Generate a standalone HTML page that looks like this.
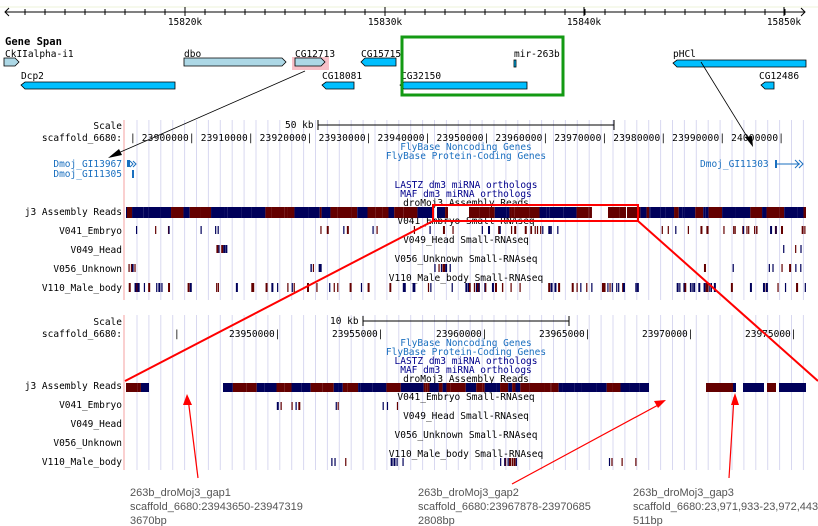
<!DOCTYPE html>
<html><head><meta charset="utf-8"><style>
html,body{margin:0;padding:0;background:#fff;width:818px;height:526px;overflow:hidden}
svg{display:block}
.m{font-family:"DejaVu Sans Mono","Liberation Mono",monospace;font-size:9.5px}
.g{font-family:"Liberation Sans",sans-serif;font-size:11px;fill:#555}
</style></head><body>
<svg id="s" width="818" height="526" xmlns="http://www.w3.org/2000/svg">
<line x1="0" y1="7" x2="818" y2="7" stroke="#eef3d8" stroke-width="1"/>
<g id="topr"></g>
<text x="5" y="45" font-family="DejaVu Sans Mono,Liberation Mono,monospace" font-size="10.5" font-weight="bold">Gene Span</text>
<g class="m">
<text x="5" y="57">CkIIalpha-i1</text>
<text x="184" y="57">dbo</text>
<text x="295" y="57">CG12713</text>
<text x="361" y="57">CG15715</text>
<text x="514" y="57">mir-263b</text>
<text x="673" y="57">pHCl</text>
<text x="21" y="79">Dcp2</text>
<text x="322" y="79">CG18081</text>
<text x="401" y="79">CG32150</text>
<text x="759" y="79">CG12486</text>
</g>
<rect x="292" y="57" width="37" height="13" fill="#f7c0c8"/>
<g stroke="#000" stroke-width="0.8">
<polygon points="4,58 15,58 19,62 15,66 4,66" fill="#add8e6"/>
<polygon points="184,58 282,58 286,62 282,66 184,66" fill="#add8e6"/>
<polygon points="295,58 321,58 325,62 321,66 295,66" fill="#add8e6"/>
<polygon points="365,58 396,58 396,66 365,66 361,62" fill="#00bfff"/>
<rect x="514" y="60" width="2" height="7" fill="#00bfff"/>
<polygon points="677,60 806,60 806,67 677,67 673,63" fill="#00bfff"/>
<polygon points="25,82 175,82 175,89 25,89 21,85" fill="#00bfff"/>
<polygon points="326,82 354,82 354,89 326,89 322,85" fill="#00bfff"/>
<polygon points="404,82 527,82 527,89 404,89 400,85" fill="#00bfff"/>
<polygon points="765,82 774,82 774,89 765,89 761,85" fill="#00bfff"/>
</g>
<rect x="402" y="37" width="161" height="58" fill="none" stroke="#139a13" stroke-width="3"/>
<g id="grid"></g>
<line x1="124" y1="120" x2="124" y2="300" stroke="#f4a0a0"/>
<line x1="124" y1="315" x2="124" y2="470" stroke="#f4a0a0"/>
<g class="m" text-anchor="end">
<text x="122" y="129">Scale</text><text x="122" y="141">scaffold_6680:</text>
<text x="122" y="167" fill="#1a6fbf">Dmoj_GI13967</text>
<text x="122" y="177" fill="#1a6fbf">Dmoj_GI11305</text>
<text x="122" y="215">j3 Assembly Reads</text>
<text x="122" y="234">V041_Embryo</text><text x="122" y="253">V049_Head</text>
<text x="122" y="272">V056_Unknown</text><text x="122" y="291">V110_Male_body</text>
<text x="122" y="325">Scale</text><text x="122" y="337">scaffold_6680:</text>
<text x="122" y="389">j3 Assembly Reads</text>
<text x="122" y="408">V041_Embryo</text><text x="122" y="427">V049_Head</text>
<text x="122" y="446">V056_Unknown</text><text x="122" y="465">V110_Male_body</text>
</g>
<g class="m">
<text x="285" y="128">50 kb</text>
<text x="130" y="141" textLength="654" lengthAdjust="spacing">| 23900000| 23910000| 23920000| 23930000| 23940000| 23950000| 23960000| 23970000| 23980000| 23990000| 24000000|</text>
<g text-anchor="middle" fill="#1a6fbf"><text x="466" y="150">FlyBase Noncoding Genes</text><text x="466" y="159">FlyBase Protein-Coding Genes</text></g>
<text x="700" y="167" fill="#1a6fbf">Dmoj_GI11303</text>
<g text-anchor="middle"><text x="466" y="188" fill="#00008b">LASTZ dm3 miRNA orthologs</text><text x="466" y="197" fill="#00008b">MAF dm3 miRNA orthologs</text><text x="466" y="206">droMoj3 Assembly Reads</text>
<text x="466" y="224">V041_Embryo Small-RNAseq</text><text x="466" y="243">V049_Head Small-RNAseq</text><text x="466" y="262">V056_Unknown Small-RNAseq</text><text x="466" y="281">V110_Male_body Small-RNAseq</text></g>
<text x="330" y="324">10 kb</text>
<text x="229" y="337">23950000|</text><text x="332" y="337">23955000|</text><text x="436" y="337">23960000|</text><text x="539" y="337">23965000|</text><text x="642" y="337">23970000|</text><text x="745" y="337">23975000|</text>
<text x="174" y="337">|</text>
<g text-anchor="middle"><text x="466" y="346" fill="#1a6fbf">FlyBase Noncoding Genes</text><text x="466" y="355" fill="#1a6fbf">FlyBase Protein-Coding Genes</text><text x="466" y="364" fill="#00008b">LASTZ dm3 miRNA orthologs</text><text x="466" y="373" fill="#00008b">MAF dm3 miRNA orthologs</text><text x="466" y="382">droMoj3 Assembly Reads</text>
<text x="466" y="400">V041_Embryo Small-RNAseq</text><text x="466" y="419">V049_Head Small-RNAseq</text><text x="466" y="438">V056_Unknown Small-RNAseq</text><text x="466" y="457">V110_Male_body Small-RNAseq</text></g>
</g>
<line x1="318" y1="125" x2="614" y2="125" stroke="#000"/><line x1="318" y1="120" x2="318" y2="130" stroke="#000"/><line x1="614" y1="120" x2="614" y2="130" stroke="#000"/>
<line x1="363" y1="321" x2="569" y2="321" stroke="#000"/><line x1="363" y1="316" x2="363" y2="326" stroke="#000"/><line x1="569" y1="316" x2="569" y2="326" stroke="#000"/>
<rect x="127" y="160" width="3" height="7" fill="#1a6fbf"/><path d="M130,161 l3,3 -3,3 M133,161 l3,3 -3,3" stroke="#1a6fbf" fill="none"/>
<rect x="132" y="170" width="2" height="8" fill="#1a6fbf"/>
<rect x="775" y="160" width="2" height="8" fill="#1a6fbf"/><line x1="777" y1="164" x2="800" y2="164" stroke="#1a6fbf"/><path d="M795,160 l4,4 -4,4 M799,160 l4,4 -4,4" stroke="#1a6fbf" fill="none"/>
<g id="bars"></g>
<rect x="433" y="205" width="205" height="16" fill="none" stroke="#f00" stroke-width="2"/>
<g stroke="#f00" stroke-width="2"><line x1="433" y1="221" x2="125" y2="381"/><line x1="638" y1="221" x2="818" y2="381"/></g>
<g stroke="#000" stroke-width="0.8"><line x1="305" y1="71" x2="116" y2="154"/><line x1="701" y1="62" x2="751" y2="143"/></g>
<polygon points="108,158 119,149 122,155" fill="#000"/><polygon points="753,147 745,137 752,136" fill="#000"/>
<g stroke="#f00" stroke-width="1.2"><line x1="198" y1="478" x2="188" y2="398"/><line x1="512" y1="484" x2="660" y2="404"/><line x1="729" y1="478" x2="734" y2="397"/></g>
<polygon points="187,394 183,405 192,405" fill="#f00"/><polygon points="666,400 654,401 658,408" fill="#f00"/><polygon points="735,393 731,405 739,405" fill="#f00"/>
<g class="g"><text x="130" y="496">263b_droMoj3_gap1</text><text x="130" y="510">scaffold_6680:23943650-23947319</text><text x="130" y="524">3670bp</text>
<text x="418" y="496">263b_droMoj3_gap2</text><text x="418" y="510">scaffold_6680:23967878-23970685</text><text x="418" y="524">2808bp</text>
<text x="633" y="496">263b_droMoj3_gap3</text><text x="633" y="510">scaffold_6680:23,971,933-23,972,443</text><text x="633" y="524">511bp</text></g>
</svg>
<script>
(function(){
var NS="http://www.w3.org/2000/svg";
function el(p,t,a){var e=document.createElementNS(NS,t);for(var k in a)e.setAttribute(k,a[k]);p.appendChild(e);return e;}
var tp=document.getElementById("topr");
el(tp,"line",{x1:5,y1:12,x2:805,y2:12,stroke:"#000"});
el(tp,"path",{d:"M9,8 L5,12 L9,16 M801,8 L805,12 L801,16",stroke:"#000",fill:"none"});
for(var x=25;x<=800;x+=20)el(tp,"line",{x1:x,y1:9,x2:x,y2:15,stroke:"#000"});
[[185,"15820k"],[385,"15830k"],[584,"15840k"],[784,"15850k"]].forEach(function(a){el(tp,"line",{x1:a[0],y1:7,x2:a[0],y2:16,stroke:"#000"});var t=el(tp,"text",{x:a[0],y:25,"text-anchor":"middle","font-family":"DejaVu Sans Mono,monospace","font-size":"9.5"});t.textContent=a[1];});
var g=document.getElementById("grid");
for(var x=137;x<806;x+=11.9){el(g,"line",{x1:x,y1:120,x2:x,y2:300,stroke:"#d8d8f0"});el(g,"line",{x1:x,y1:315,x2:x,y2:470,stroke:"#d8d8f0"});}
var b=document.getElementById("bars");var seed=7;function r(){seed=(seed*16807)%2147483647;return seed/2147483647;}
var R="#640000",B="#00005a";
function fill(x0,x1,y,h){var x=x0;while(x<x1){var w=Math.min(x1-x,1+r()*14);el(b,"rect",{x:x,y:y,width:w,height:h,fill:r()<0.5?R:B});x+=w;}}
fill(126,433,207,11);fill(437,448,207,11);fill(469,592,207,11);fill(608,626,207,11);fill(627,806,207,11);
fill(126,149,383,9);fill(223,649,383,9);el(b,"rect",{x:706,y:383,width:27,height:9,fill:R});el(b,"rect",{x:733,y:383,width:3,height:9,fill:B});
el(b,"rect",{x:743,y:383,width:21,height:9,fill:B});el(b,"rect",{x:767,y:383,width:9,height:9,fill:R});el(b,"rect",{x:779,y:383,width:27,height:9,fill:B});
function ticks(y,h,n,ranges){for(var i=0;i<n;i++){var rg=ranges[Math.floor(r()*ranges.length)];var x=rg[0]+r()*(rg[1]-rg[0]);el(b,"rect",{x:x,y:y,width:r()<0.3?2:1.2,height:h,fill:r()<0.5?R:B});}}
ticks(226,8,60,[[128,470],[480,560],[660,806]]);
ticks(245,8,8,[[213,240],[780,806]]);
ticks(264,8,25,[[128,140],[310,330],[430,450],[700,806]]);
ticks(283,9,110,[[128,806]]);
ticks(402,8,10,[[272,400]]);
ticks(458,8,22,[[272,420],[500,520],[600,640]]);
})();
</script>
</body></html>
